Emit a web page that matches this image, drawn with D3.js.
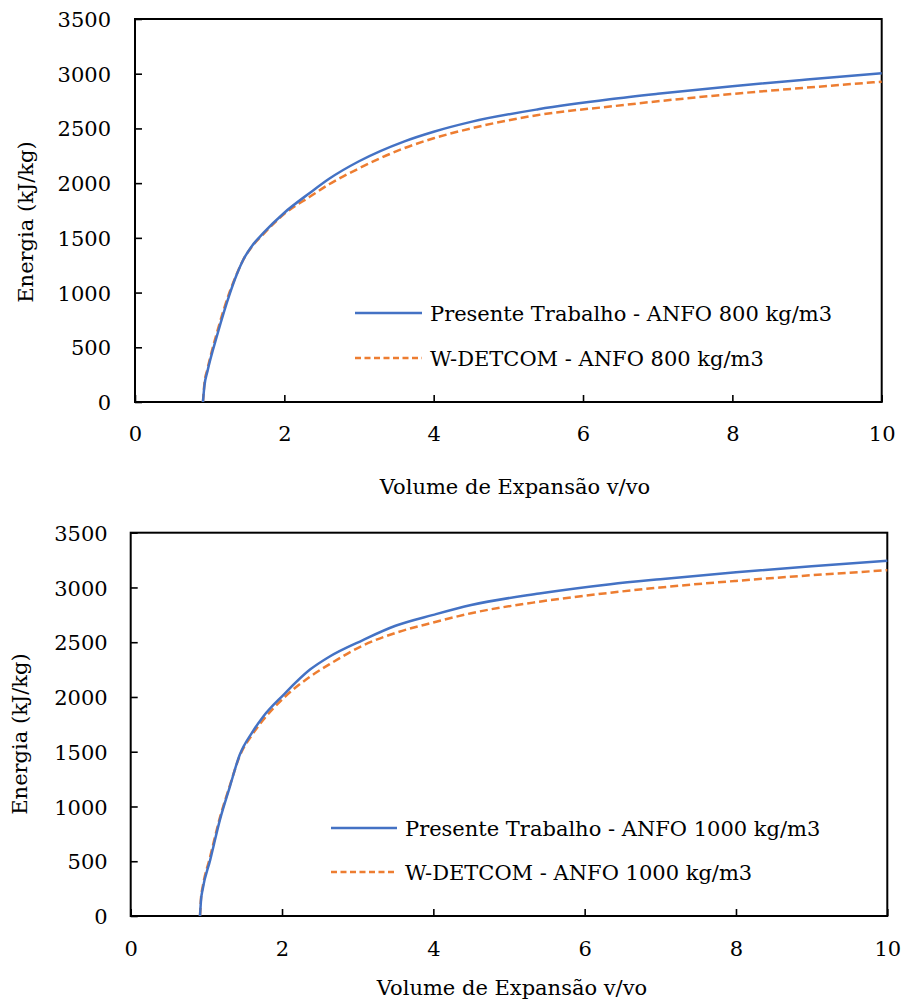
<!DOCTYPE html>
<html>
<head>
<meta charset="utf-8">
<script src="https://cdn.jsdelivr.net/npm/d3@7"></script>
<style>
  body { margin: 0; background: #fff; }
  svg { display: block; }
  text { font-family: "DejaVu Serif", serif; fill: #000; }
</style>
</head>
<body>
<svg id="chart" width="902" height="1002"></svg>
<script>
// Data (v/vo vs energy in kJ/kg)
const volume800 = [0.91, 0.93, 0.97, 1.1, 1.27, 1.36, 1.45, 1.56, 1.72, 2.0, 2.34, 2.6, 3.0, 3.6, 4.0, 4.5, 5.4, 6.36, 7, 8, 9, 10];
const presente800 = [0, 150, 280, 610, 990, 1160, 1300, 1420, 1545, 1730, 1910, 2040, 2200, 2380, 2470, 2560, 2675, 2766, 2816, 2886, 2947, 3004];
const wdetcom800 = [0, 170, 300, 640, 1010, 1165, 1300, 1415, 1535, 1720, 1875, 1990, 2135, 2318, 2410, 2500, 2623, 2700, 2748, 2815, 2873, 2927];

const volume1000 = [0.916, 0.93, 0.95, 1.05, 1.18, 1.31, 1.44, 1.6, 1.75, 2.02, 2.37, 2.63, 3.07, 3.5, 4.0, 4.5, 5.4, 6.34, 7, 8, 9, 10];
const presente1000 = [0, 150, 240, 510, 880, 1180, 1470, 1670, 1820, 2020, 2250, 2370, 2520, 2650, 2750, 2840, 2945, 3030, 3076, 3139, 3194, 3244];
const wdetcom1000 = [0, 170, 260, 540, 900, 1190, 1460, 1650, 1790, 1990, 2185, 2300, 2470, 2585, 2680, 2765, 2870, 2952, 3000, 3060, 3112, 3157];

const xTicks = [0, 2, 4, 6, 8, 10];
const yTicks = [0, 500, 1000, 1500, 2000, 2500, 3000, 3500];

const xTitle = "Volume de Expansão v/vo";
const yTitle = "Energia (kJ/kg)";
const legend800 = ["Presente Trabalho - ANFO 800 kg/m3", "W-DETCOM - ANFO 800 kg/m3"];
const legend1000 = ["Presente Trabalho - ANFO 1000 kg/m3", "W-DETCOM - ANFO 1000 kg/m3"];

const colors = { presente: "#4472C4", wdetcom: "#ED7D31" };
const fontSize = 21;

const svg = d3.select("#chart");

function drawPanel(cfg) {
  const x = d3.scaleLinear().domain([0, 10]).range([cfg.left, cfg.right]);
  const y = d3.scaleLinear().domain([0, 3500]).range([cfg.bottom, cfg.top]);
  const g = svg.append("g");

  // axes with inward ticks
  const yAxis = g.append("g")
    .attr("transform", `translate(${cfg.left},0)`)
    .call(d3.axisLeft(y).tickValues(yTicks).tickFormat(d3.format("d"))
      .tickSize(-7).tickPadding(cfg.left - cfg.yLabelRight));
  const xAxis = g.append("g")
    .attr("transform", `translate(0,${cfg.bottom})`)
    .call(d3.axisBottom(x).tickValues(xTicks).tickFormat(d3.format("d"))
      .tickSize(-7).tickPadding(cfg.xPad));
  [yAxis, xAxis].forEach(a => {
    a.select(".domain").remove();
    a.selectAll(".tick line").attr("stroke", "#000").attr("stroke-width", 1.6);
    a.selectAll(".tick text").attr("font-size", fontSize).attr("font-family", "DejaVu Serif");
  });
  yAxis.selectAll(".tick text").attr("dy", "0.36em");

  // frame
  g.append("rect")
    .attr("x", cfg.left).attr("y", cfg.top)
    .attr("width", cfg.right - cfg.left).attr("height", cfg.bottom - cfg.top)
    .attr("fill", "none").attr("stroke", "#000").attr("stroke-width", 2);

  const line = d3.line()
    .x(d => x(d[0]))
    .y(d => y(d[1]))
    .curve(d3.curveMonotoneX);

  g.append("path")
    .datum(d3.zip(cfg.volume, cfg.wdetcom))
    .attr("d", line)
    .attr("fill", "none")
    .attr("stroke", colors.wdetcom)
    .attr("stroke-width", 2.5)
    .attr("stroke-dasharray", "8,4");

  g.append("path")
    .datum(d3.zip(cfg.volume, cfg.presente))
    .attr("d", line)
    .attr("fill", "none")
    .attr("stroke", colors.presente)
    .attr("stroke-width", 2.5);

  // titles
  g.append("text")
    .attr("x", cfg.xTitleX).attr("y", cfg.xTitleY)
    .attr("text-anchor", "middle")
    .attr("font-size", fontSize)
    .text(xTitle);
  g.append("text")
    .attr("transform", `translate(${cfg.yTitleX},${cfg.yTitleY}) rotate(-90)`)
    .attr("text-anchor", "middle")
    .attr("dy", "0.36em")
    .attr("font-size", fontSize)
    .text(yTitle);

  // legend
  const items = [
    { label: cfg.legend[0], color: colors.presente, dash: null },
    { label: cfg.legend[1], color: colors.wdetcom, dash: "6,3.5" }
  ];
  items.forEach((it, i) => {
    const ly = cfg.legendY[i];
    g.append("line")
      .attr("x1", cfg.legendX0).attr("x2", cfg.legendX1)
      .attr("y1", ly).attr("y2", ly)
      .attr("stroke", it.color)
      .attr("stroke-width", 2.5)
      .attr("stroke-dasharray", it.dash);
    g.append("text")
      .attr("x", cfg.legendTextX).attr("y", ly)
      .attr("dy", "0.36em")
      .attr("font-size", fontSize)
      .text(it.label);
  });
}

drawPanel({
  left: 135, right: 881.7, top: 19, bottom: 402,
  yLabelRight: 111, xPad: 24,
  xTitleX: 515, xTitleY: 494,
  yTitleX: 25, yTitleY: 222,
  legendX0: 355, legendX1: 422, legendTextX: 430, legendY: [313, 358],
  legend: legend800,
  volume: volume800, presente: presente800, wdetcom: wdetcom800
});

drawPanel({
  left: 130.7, right: 887.3, top: 532.7, bottom: 916,
  yLabelRight: 107.7, xPad: 25,
  xTitleX: 512, xTitleY: 995,
  yTitleX: 19, yTitleY: 734,
  legendX0: 331, legendX1: 397, legendTextX: 405, legendY: [828, 872],
  legend: legend1000,
  volume: volume1000, presente: presente1000, wdetcom: wdetcom1000
});
</script>
</body>
</html>
